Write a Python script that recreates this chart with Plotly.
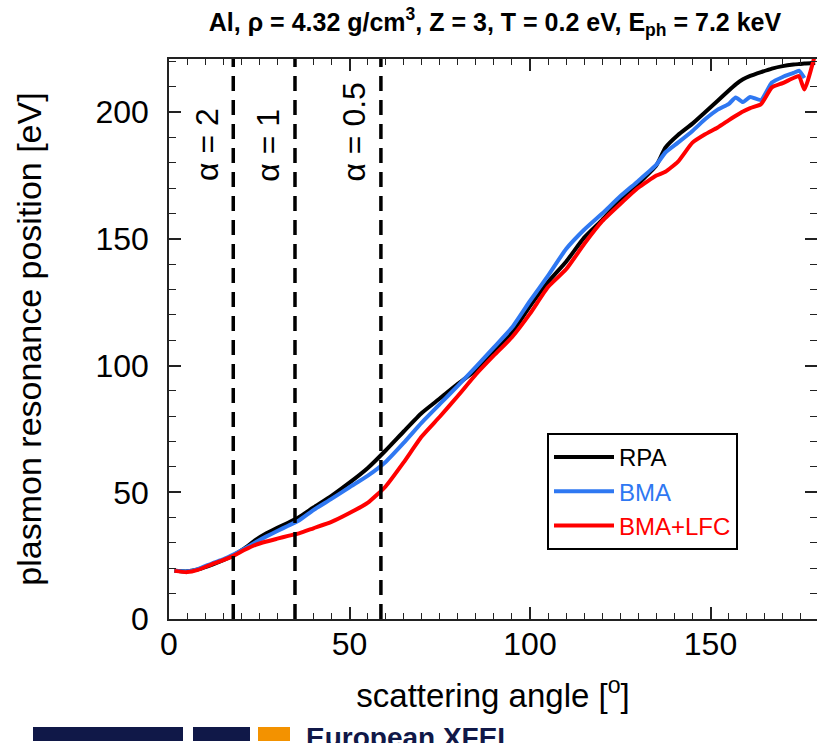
import plotly.graph_objects as go

# ---------------- data ----------------
angles = [1.5, 5, 8, 12, 15, 18, 21, 24, 27, 30, 33, 36, 40, 45, 50, 55, 60, 65, 70, 75,
          80, 85, 90, 95, 100, 105, 110, 115, 120, 125, 130, 135, 137.5, 141, 145, 148.5,
          152, 155, 157, 159, 161, 164, 167, 170, 173, 174.5, 176, 179]

rpa = [19.0, 18.8, 19.6, 21.5, 23.2, 25.3, 28.0, 31.2, 33.8, 36.0, 38.0, 40.2, 44.0, 48.6,
       53.8, 59.5, 66.5, 74.0, 81.3, 87.0, 92.8, 98.2, 105.5, 113.0, 123.5, 133.0, 141.0,
       150.5, 157.5, 165.0, 171.7, 179.0, 186.0, 191.0, 195.5, 200.0, 204.5, 208.5, 211.0,
       213.0, 214.3, 215.8, 217.2, 218.2, 218.8, 219.0, 219.2, 219.4]

bma = [19.0, 18.8, 19.7, 22.0, 23.5, 25.5, 27.8, 30.3, 32.6, 34.7, 36.8, 38.9, 43.0, 47.4,
       52.0, 56.5, 62.0, 69.5, 77.5, 84.8, 92.0, 99.5, 107.2, 115.0, 125.5, 135.5, 146.0,
       153.6, 160.0, 166.8, 172.9, 179.3, 184.1, 188.0, 192.6, 197.2, 201.0, 203.2, 205.8,
       204.0, 206.0, 204.8, 211.7, 213.9, 215.5, 216.4, 213.5, None]

bma_lfc = [19.0, 18.5, 19.4, 21.7, 23.2, 25.0, 27.3, 29.3, 30.6, 31.7, 32.8, 33.8, 35.8, 38.3,
           41.8, 45.8, 52.3, 61.8, 72.0, 79.8, 88.0, 96.5, 104.0, 111.2, 120.5, 131.0, 138.0,
           148.0, 157.0, 163.8, 170.2, 175.0, 176.5, 180.5, 188.0, 191.3, 194.0, 196.8, 198.6,
           200.3, 201.6, 203.2, 209.8, 211.5, 213.5, 214.3, 209.0, 223.0]

alpha_angles = [17.8, 34.9, 58.7]
alpha_labels = ["α = 2", "α = 1", "α = 0.5"]

series_names = ["RPA", "BMA", "BMA+LFC"]
series_colors = ["#000000", "#2f78f2", "#ff0000"]

x_ticks = [0, 50, 100, 150]
y_ticks = [0, 50, 100, 150, 200]

FONT = "Arial, 'Liberation Sans', sans-serif"

fig = go.Figure()

for name, vals, col in zip(series_names, [rpa, bma, bma_lfc], series_colors):
    fig.add_trace(go.Scatter(
        x=angles, y=vals, mode="lines",
        name=f"<span style='color:{col}'>{name}</span>",
        line=dict(color=col, width=4, shape="spline", smoothing=0.5),
        connectgaps=False,
    ))

# alpha guide lines
for a, lab in zip(alpha_angles, alpha_labels):
    fig.add_shape(type="line", xref="x", yref="paper", x0=a, x1=a, y0=0, y1=1,
                  line=dict(color="black", width=3.5, dash="15px,9px"), layer="above")
    fig.add_annotation(x=a, y=172, xref="x", yref="y", text=lab, textangle=-90,
                       showarrow=False, xanchor="right", yanchor="bottom", xshift=-7,
                       font=dict(family=FONT, size=32, color="black"))

# European XFEL footer logo
navy = "#101848"
for x0, x1, col in [(33, 183, navy), (193, 250, navy), (258, 290, "#f39200")]:
    fig.add_shape(type="rect", xref="paper", yref="paper",
                  x0=(x0 - 169) / 648, x1=(x1 - 169) / 648,
                  y0=(619 - 741) / 560, y1=(619 - 727) / 560,
                  line=dict(width=0), fillcolor=col)
fig.add_annotation(xref="paper", yref="paper", x=(304 - 169) / 648, y=(619 - 737) / 560,
                   text="<b>European XFEL</b>", showarrow=False, xanchor="left", yanchor="middle",
                   font=dict(family=FONT, size=28, color=navy))

axis_common = dict(
    showline=True, linecolor="#222222", linewidth=1.5, mirror="ticks",
    ticks="inside", ticklen=12, tickwidth=1.5, tickcolor="#222222",
    showgrid=False, zeroline=False,
    tickfont=dict(family=FONT, size=32, color="black"),
)

fig.update_xaxes(
    range=[0, 179.5], tickvals=x_ticks,
    minor=dict(dtick=5, ticks="inside", ticklen=6, tickwidth=1.2, tickcolor="#222222"),
    title=dict(text="scattering angle [<sup>o</sup>]", font=dict(family=FONT, size=33, color="black"),
               standoff=23),
    ticklabelstandoff=-4,
    **axis_common,
)
fig.update_yaxes(
    range=[0, 221], tickvals=y_ticks,
    minor=dict(dtick=10, ticks="inside", ticklen=7, tickwidth=1.2, tickcolor="#222222"),
    title=dict(text="plasmon resonance position [eV]", font=dict(family=FONT, size=34, color="black"),
               standoff=44),
    ticklabelstandoff=12,
    **axis_common,
)

fig.update_layout(
    width=817, height=743,
    margin=dict(l=169, r=0, t=59, b=124, autoexpand=False),
    paper_bgcolor="white", plot_bgcolor="white",
    title=dict(
        text="<b>Al, ρ = 4.32 g/cm<sup>3</sup>, Z = 3, T = 0.2 eV, E<sub>ph</sub> = 7.2 keV</b>",
        x=(495 - 169) / 648, xref="paper", xanchor="center", y=1 - 22 / 743, yanchor="middle",
        font=dict(family=FONT, size=25, color="black"),
    ),
    legend=dict(
        x=(547 - 169) / 648, y=(619 - 433) / 560, xanchor="left", yanchor="top",
        bordercolor="black", borderwidth=2, bgcolor="white",
        font=dict(family=FONT, size=24, color="black"),
        tracegroupgap=0, itemwidth=60,
    ),
    showlegend=True,
)

fig.write_html(
    "out.html",
    config={"displayModeBar": False},
    post_script="document.body.style.margin='0';document.body.style.overflow='hidden';",
)
